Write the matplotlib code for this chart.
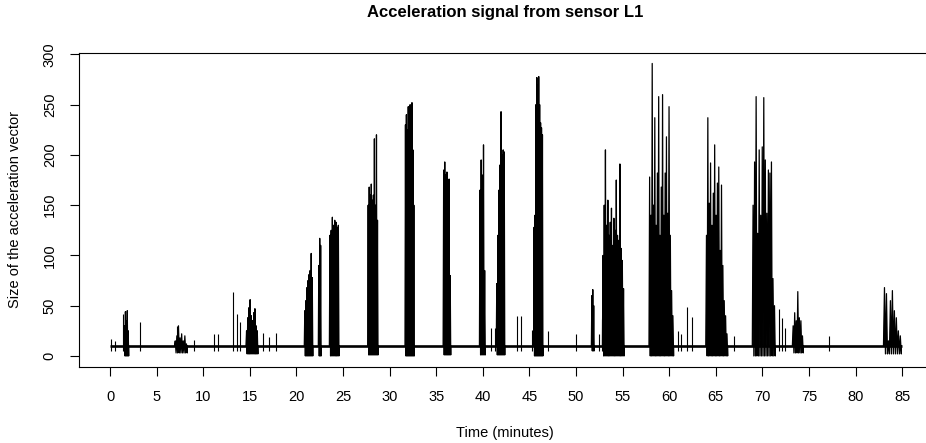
import numpy as np
import matplotlib
matplotlib.use("Agg")
import matplotlib.pyplot as plt

plt.rcParams['font.family'] = ['Liberation Sans', 'DejaVu Sans']

# burst segments of the signal (minutes), peak sizes
burst_start = [1.55, 7.0, 14.65, 20.9, 22.4, 23.6, 27.7, 31.7, 35.8, 39.7,
               41.5, 45.5, 51.7, 52.9, 57.9, 64.0, 69.0, 73.3, 83.1]
burst_end = [1.95, 8.2, 15.8, 21.7, 22.6, 24.5, 28.7, 32.6, 36.5, 40.2,
             42.3, 46.4, 51.9, 55.1, 60.4, 66.2, 71.3, 74.3, 84.8]
burst_low = [0, 3, 2, 0, 0, 0, 1, 0, 1, 1, 1, 0, 5, 0, 0, 0, 0, 3, 2]
burst_peaks = [
    [30, 44, 35, 45, 25],
    [15, 20, 30, 18, 22, 15, 20, 12],
    [25, 38, 48, 56, 40, 35, 43, 47, 30, 25],
    [45, 55, 68, 75, 81, 85, 102, 78],
    [90, 117, 110],
    [120, 125, 138, 130, 135, 133, 128, 130],
    [150, 168, 160, 171, 155, 160, 216, 150, 220, 135],
    [230, 240, 225, 248, 200, 250, 190, 252, 205, 150],
    [185, 193, 180, 183, 170, 176, 80],
    [165, 195, 180, 210, 85],
    [72, 120, 165, 190, 243, 200, 205, 203],
    [128, 140, 250, 277, 270, 278, 250, 232, 227, 220],
    [60, 66, 50],
    [100, 150, 205, 130, 155, 120, 133, 147, 110, 137, 125, 175, 120, 115, 191, 107, 95, 67],
    [178, 140, 291, 150, 237, 130, 182, 258, 120, 168, 260, 140, 182, 218, 142, 248, 120, 65, 40],
    [120, 237, 152, 192, 130, 162, 210, 140, 172, 188, 105, 170, 90, 55, 40, 22],
    [150, 193, 258, 122, 205, 140, 208, 257, 195, 142, 185, 182, 193, 77, 50],
    [30, 43, 35, 64, 38, 35, 20],
    [68, 62, 15, 55, 65, 45, 38, 25, 20],
]

# isolated spikes above the resting level
spike_t = [0.1, 0.5, 1.43, 3.2, 7.15, 9.0, 11.2, 11.6, 13.2, 13.6, 13.9, 16.4,
           17.1, 17.8, 40.9, 41.3, 43.7, 44.1, 45.3, 47.0, 50.0, 52.5, 52.8,
           60.9, 61.3, 61.9, 62.4, 67.0, 71.8, 72.1, 72.4, 77.2]
spike_v = [17, 15, 42, 34, 30, 16, 22, 22, 64, 42, 34, 23,
           19, 23, 28, 28, 40, 40, 26, 25, 22, 22, 37,
           25, 22, 49, 39, 20, 47, 38, 28, 20]

rest_level = 10
t_first, t_last = 0, 85

x_ticks = list(range(0, 90, 5))
y_ticks = list(range(0, 301, 50))

fig = plt.figure(figsize=(9.26, 4.43), dpi=100)
ax = fig.add_axes([79 / 926, 1 - 367.3 / 443, (932 - 79) / 926, (367.3 - 52.7) / 443])

# resting level
ax.plot([t_first, t_last], [rest_level, rest_level], color='black', linewidth=1.9,
        solid_capstyle='butt')

# bursts drawn as a dense zigzag between peaks and troughs
for s, e, lo, pk in zip(burst_start, burst_end, burst_low, burst_peaks):
    tp = np.linspace(s, e, len(pk))
    step = (e - s) / max(len(pk) - 1, 1)
    xs, ys = [s - step / 2], [rest_level]
    for t, p in zip(tp, pk):
        xs += [t, t + step / 2]
        ys += [p, lo]
    xs.append(e + step / 2)
    ys.append(rest_level)
    ax.fill(xs, ys, color='black', linewidth=0)
    ax.plot(xs, ys, color='black', linewidth=0.9)

ax.vlines(spike_t, 5, spike_v, color='black', linewidth=0.8)

ax.set_xlim(-3.33, 88.2)
ax.set_ylim(-11.3, 301.7)
ax.set_xticks(x_ticks)
ax.set_yticks(y_ticks)
ax.tick_params(axis='both', length=6.5, width=0.8, labelsize=10.5, color='black')
ax.tick_params(axis='x', pad=10)
ax.tick_params(axis='y', pad=9.5)
for lab in ax.get_yticklabels():
    lab.set_rotation(90)
    lab.set_va('center')
for sp in ax.spines.values():
    sp.set_linewidth(0.8)
ax.spines['right'].set_visible(False)

fig.text(505 / 926, 1 - 13 / 443, 'Acceleration signal from sensor L1',
         ha='center', va='center', fontsize=12, fontweight='bold')
fig.text(505 / 926, 1 - 433 / 443, 'Time (minutes)', ha='center', va='center', fontsize=10.5)
fig.text(15 / 926, 1 - 210 / 443, 'Size of the acceleration vector', ha='center', va='center',
         rotation=90, fontsize=10.5)

fig.savefig('out.png', dpi=100)
plt.close(fig)
